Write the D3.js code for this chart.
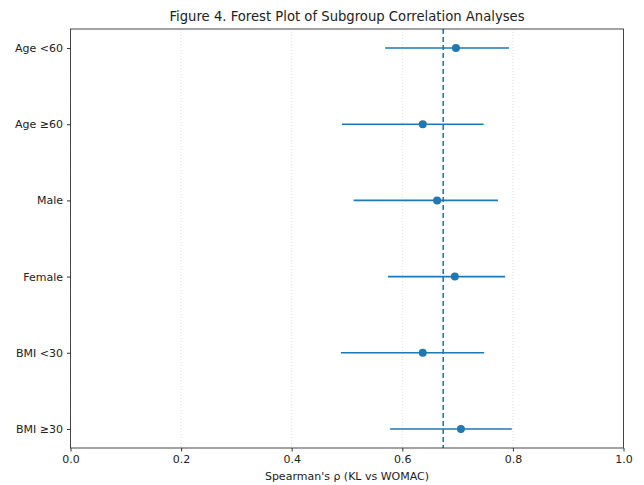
<!DOCTYPE html>
<html>
<head>
<meta charset="utf-8">
<script src="https://cdn.jsdelivr.net/npm/d3@7"></script>
<style>
  body { margin: 0; background: #fff; }
  text { font-family: "DejaVu Sans", sans-serif; fill: #222; }
</style>
</head>
<body>
<svg id="canvas" width="644" height="485"></svg>
<script>
// subgroups, top to bottom
var groups = ["Age <60", "Age \u226560", "Male", "Female", "BMI <30", "BMI \u226530"];
var rho = [0.697, 0.637, 0.663, 0.695, 0.637, 0.706];
var ci_low = [0.569, 0.491, 0.512, 0.574, 0.489, 0.578];
var ci_high = [0.793, 0.747, 0.773, 0.786, 0.748, 0.798];
var overall = 0.674;
var x_ticks = [0, 0.2, 0.4, 0.6, 0.8, 1.0];

var canvas = d3.select("#canvas");
var plot_left = 70.5, plot_right = 623.5, plot_top = 29, plot_bottom = 448;
var blue = "#1f77b4";

var x = d3.scaleLinear().domain([0, 1]).range([plot_left, plot_right]);
var y = d3.scaleLinear().domain([-0.25, groups.length - 0.75]).range([plot_top, plot_bottom]);

// dotted grid
canvas.append("g").selectAll("line")
    .data(x_ticks)
    .enter().append("line")
    .attr("x1", function(d){ return x(d) }).attr("x2", function(d){ return x(d) })
    .attr("y1", plot_top).attr("y2", plot_bottom)
    .style("stroke", "#d4d4d4").style("stroke-width", 0.8).style("stroke-dasharray", "1,2");

// reference line
canvas.append("line")
    .attr("x1", x(overall)).attr("x2", x(overall))
    .attr("y1", plot_top).attr("y2", plot_bottom)
    .style("stroke", blue).style("stroke-width", 1.6).style("stroke-dasharray", "5,3");

// CI lines
canvas.append("g").selectAll("line")
    .data(groups)
    .enter().append("line")
    .attr("x1", function(d, i){ return x(ci_low[i]) })
    .attr("x2", function(d, i){ return x(ci_high[i]) })
    .attr("y1", function(d, i){ return y(i) }).attr("y2", function(d, i){ return y(i) })
    .style("stroke", blue).style("stroke-width", 1.6);

// points
canvas.append("g").selectAll("circle")
    .data(groups)
    .enter().append("circle")
    .attr("cx", function(d, i){ return x(rho[i]) })
    .attr("cy", function(d, i){ return y(i) })
    .attr("r", 4)
    .style("fill", blue);

// frame
canvas.append("rect")
    .attr("x", plot_left).attr("y", plot_top)
    .attr("width", plot_right - plot_left).attr("height", plot_bottom - plot_top)
    .style("fill", "none").style("stroke", "#333").style("stroke-width", 0.9);

// axes
var xAxis = d3.axisBottom(x).tickValues(x_ticks).tickFormat(d3.format(".1f")).tickSize(3.5).tickPadding(4);
var gx = canvas.append("g").attr("transform", "translate(0," + plot_bottom + ")").call(xAxis);
gx.select(".domain").remove();
gx.selectAll("line").style("stroke", "#333");
gx.selectAll("text").style("font-size", "11px").style("font-family", "DejaVu Sans").style("fill", "#222");

var yAxis = d3.axisLeft(y).tickValues(d3.range(groups.length)).tickFormat(function(i){ return groups[i] }).tickSize(3.5).tickPadding(4);
var gy = canvas.append("g").attr("transform", "translate(" + plot_left + ",0)").call(yAxis);
gy.select(".domain").remove();
gy.selectAll("line").style("stroke", "#333");
gy.selectAll("text").style("font-size", "11px").style("font-family", "DejaVu Sans").style("fill", "#222");

// title and label
canvas.append("text")
    .attr("x", (plot_left + plot_right) / 2).attr("y", 21)
    .attr("text-anchor", "middle")
    .style("font-size", "13.2px")
    .text("Figure 4. Forest Plot of Subgroup Correlation Analyses");

canvas.append("text")
    .attr("x", (plot_left + plot_right) / 2).attr("y", 480)
    .attr("text-anchor", "middle")
    .style("font-size", "11px")
    .text("Spearman's \u03c1 (KL vs WOMAC)");
</script>
</body>
</html>
